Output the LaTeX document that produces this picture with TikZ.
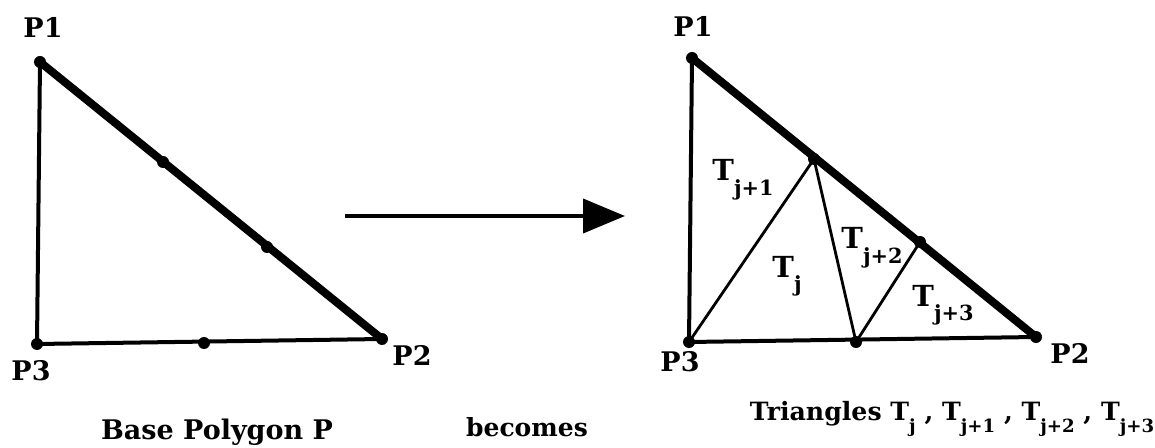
\documentclass[tikz,border=0pt]{standalone}
\usepackage{fontspec}
\usepackage{graphicx}
\setmainfont{DejaVu Serif}
\usetikzlibrary{arrows.meta}
\newcommand{\Tsub}[1]{T\raisebox{-0.5em}{\scalebox{0.72}{#1}}}
\begin{document}
\begin{tikzpicture}[x=0.5pt,y=-0.5pt,
  ptlabel/.style={font=\fontsize{13.5}{16}\selectfont\bfseries},
  trilabel/.style={font=\fontsize{14.5}{17}\selectfont\bfseries},
  caption/.style={font=\fontsize{13.5}{16}\selectfont\bfseries,anchor=base},
  side/.style={line width=2pt,line cap=round},
  hyp/.style={line width=4pt,line cap=round},
  cut/.style={line width=1.4pt,line cap=round}]
\useasboundingbox (0,0) rectangle (1155,448);
% base polygon
\coordinate (a1) at (40,62);
\coordinate (a2) at (382,339);
\coordinate (a3) at (37,344);
\coordinate (a12) at (163,162);
\coordinate (a21) at (267,247);
\coordinate (a23) at (204,343);
\draw[side] (a1)--(a3)--(a2);
\draw[hyp] (a1)--(a2);
\node[ptlabel] (la1) at (43,27) {P1};
\node[ptlabel] (la2) at (412,355) {P2};
\node[ptlabel] (la3) at (31,371) {P3};
% triangulated polygon
\coordinate (b1) at (692,58);
\coordinate (b2) at (1036,337);
\coordinate (b3) at (689,342);
\coordinate (b12) at (814,159);
\coordinate (b21) at (920,242);
\coordinate (b23) at (856,342);
\draw[side] (b1)--(b3)--(b2);
\draw[hyp] (b1)--(b2);
\draw[cut] (b3)--(b12)--(b23)--(b21);
\node[ptlabel] (lb1) at (693,26) {P1};
\node[ptlabel] (lb2) at (1070,353) {P2};
\node[ptlabel] (lb3) at (680,362) {P3};
\node[trilabel] (t1) at (743,180) {\Tsub{j+1}};
\node[trilabel] (t0) at (787,276) {\Tsub{j}};
\node[trilabel] (t2) at (872,248) {\Tsub{j+2}};
\node[trilabel] (t3) at (943,305) {\Tsub{j+3}};
\foreach \p in {a1,a2,a3,a12,a21,a23,b1,b2,b3,b12,b21,b23}
  \fill (\p) circle (3pt);
% arrow
\coordinate (ar0) at (345,216);
\coordinate (ar1) at (625,216);
\draw[line width=2pt,-{Triangle[length=21pt,width=17pt]}] (ar0)--(ar1);
% captions
\node[caption] (c1) at (217,439) {Base Polygon P};
\node[caption,font=\fontsize{12.5}{15}\selectfont\bfseries] (c2) at (527,436) {becomes};
\node[caption,font=\fontsize{12.6}{15}\selectfont\bfseries] (c3) at (952,420) {Triangles \Tsub{j} , \Tsub{j+1} , \Tsub{j+2} , \Tsub{j+3}};
\end{tikzpicture}
\end{document}
